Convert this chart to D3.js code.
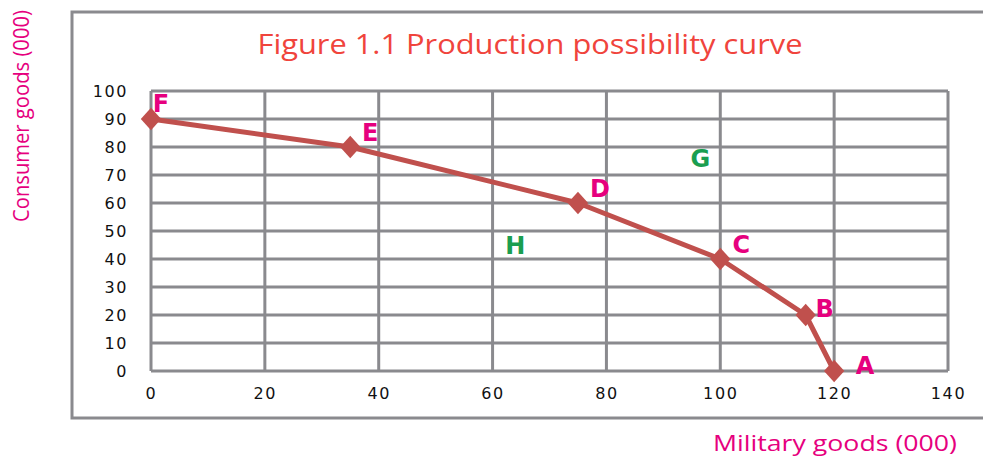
<!DOCTYPE html>
<html>
<head>
<meta charset="utf-8">
<script src="https://cdn.jsdelivr.net/npm/d3@7"></script>
<style>
  body { margin: 0; background: #fff; }
  text { font-family: "Open Sans", "DejaVu Sans", sans-serif; }
</style>
</head>
<body>
<svg id="chart" width="983" height="458"></svg>
<script>
'use strict';

// points on the curve
var pointNames = ['F', 'E', 'D', 'C', 'B', 'A'];
var military   = [0, 35, 75, 100, 115, 120];
var consumer   = [90, 80, 60, 40, 20, 0];

// points off the curve
var extraNames    = ['G', 'H'];
var extraMilitary = [96.5, 64];
var extraConsumer = [76, 45];

var xTicks = [0, 20, 40, 60, 80, 100, 120, 140];
var yTicks = [0, 10, 20, 30, 40, 50, 60, 70, 80, 90, 100];

var svg = d3.select('#chart');

var x = d3.scaleLinear().domain([0, 140]).range([151, 948]);
var y = d3.scaleLinear().domain([0, 100]).range([371, 91]);

var gridColor = '#8a8a8e';

// outer frame
svg.append('rect')
  .attr('x', 72).attr('y', 12)
  .attr('width', 940).attr('height', 406)
  .attr('fill', 'none')
  .attr('stroke', gridColor)
  .attr('stroke-width', 3);

svg.append('text')
  .attr('x', 530).attr('y', 54)
  .attr('text-anchor', 'middle')
  .attr('fill', '#f0443c')
  .attr('textLength', 545)
  .attr('lengthAdjust', 'spacingAndGlyphs')
  .style('font-size', '27px')
  .text('Figure 1.1 Production possibility curve');

// grid
var grid = svg.append('g').attr('stroke', gridColor).attr('stroke-width', 3);
grid.selectAll('.v').data(xTicks).enter().append('line')
  .attr('x1', function(d){ return x(d) }).attr('x2', function(d){ return x(d) })
  .attr('y1', y(100)).attr('y2', y(0));
grid.selectAll('.h').data(yTicks).enter().append('line')
  .attr('y1', function(d){ return y(d) }).attr('y2', function(d){ return y(d) })
  .attr('x1', x(0)).attr('x2', x(140));

// axes (tick labels only)
var xAxis = svg.append('g')
  .attr('transform', 'translate(0,' + (y(0) + 17) + ')')
  .call(d3.axisBottom(x).tickValues(xTicks).tickSize(0).tickPadding(0));
var yAxis = svg.append('g')
  .attr('transform', 'translate(' + (x(0) - 23) + ',0)')
  .call(d3.axisLeft(y).tickValues(yTicks).tickSize(0).tickPadding(0));
[xAxis, yAxis].forEach(function(a){
  a.select('.domain').remove();
  a.selectAll('text')
    .attr('fill', '#111')
    .style('font-family', '"DejaVu Sans", sans-serif')
    .style('font-size', '16px')
    .style('letter-spacing', '1.6px');
});

// the curve
var pts = military.map(function(m, i){ return { name: pointNames[i], x: m, y: consumer[i] } });
var line = d3.line().x(function(d){ return x(d.x) }).y(function(d){ return y(d.y) });
svg.append('path')
  .datum(pts)
  .attr('d', line)
  .attr('fill', 'none')
  .attr('stroke', '#c0504d')
  .attr('stroke-width', 5)
  .attr('stroke-linejoin', 'round');

svg.selectAll('.marker').data(pts).enter().append('path')
  .attr('class', 'marker')
  .attr('d', d3.symbol().type(d3.symbolDiamond).size(230))
  .attr('transform', function(d){ return 'translate(' + x(d.x) + ',' + y(d.y) + ') scale(1.25,0.8)' })
  .attr('fill', '#c0504d');

// point letters
var labelOffset = {
  F: [10, -7], E: [20, -6], D: [22, -6], C: [21, -6], B: [19, 2], A: [31, 3]
};
svg.selectAll('.plabel').data(pts).enter().append('text')
  .attr('x', function(d){ return x(d.x) + labelOffset[d.name][0] })
  .attr('y', function(d){ return y(d.y) + labelOffset[d.name][1] })
  .attr('text-anchor', 'middle')
  .attr('fill', '#e6007e')
  .style('font-family', '"DejaVu Sans", sans-serif')
  .style('font-size', '24px')
  .style('font-weight', 'bold')
  .text(function(d){ return d.name });

svg.selectAll('.elabel').data(extraNames).enter().append('text')
  .attr('x', function(d, i){ return x(extraMilitary[i]) })
  .attr('y', function(d, i){ return y(extraConsumer[i]) + 9 })
  .attr('text-anchor', 'middle')
  .attr('fill', '#1a9e50')
  .style('font-family', '"DejaVu Sans", sans-serif')
  .style('font-size', '24px')
  .style('font-weight', 'bold')
  .text(function(d){ return d });

// axis titles
svg.append('text')
  .attr('transform', 'translate(29,116) rotate(-90)')
  .attr('text-anchor', 'middle')
  .attr('fill', '#e6007e')
  .attr('textLength', 212)
  .attr('lengthAdjust', 'spacingAndGlyphs')
  .style('font-size', '21px')
  .text('Consumer goods (000)');

svg.append('text')
  .attr('x', 835).attr('y', 451)
  .attr('text-anchor', 'middle')
  .attr('fill', '#e6007e')
  .attr('textLength', 244)
  .attr('lengthAdjust', 'spacingAndGlyphs')
  .style('font-size', '21px')
  .text('Military goods (000)');
</script>
</body>
</html>
